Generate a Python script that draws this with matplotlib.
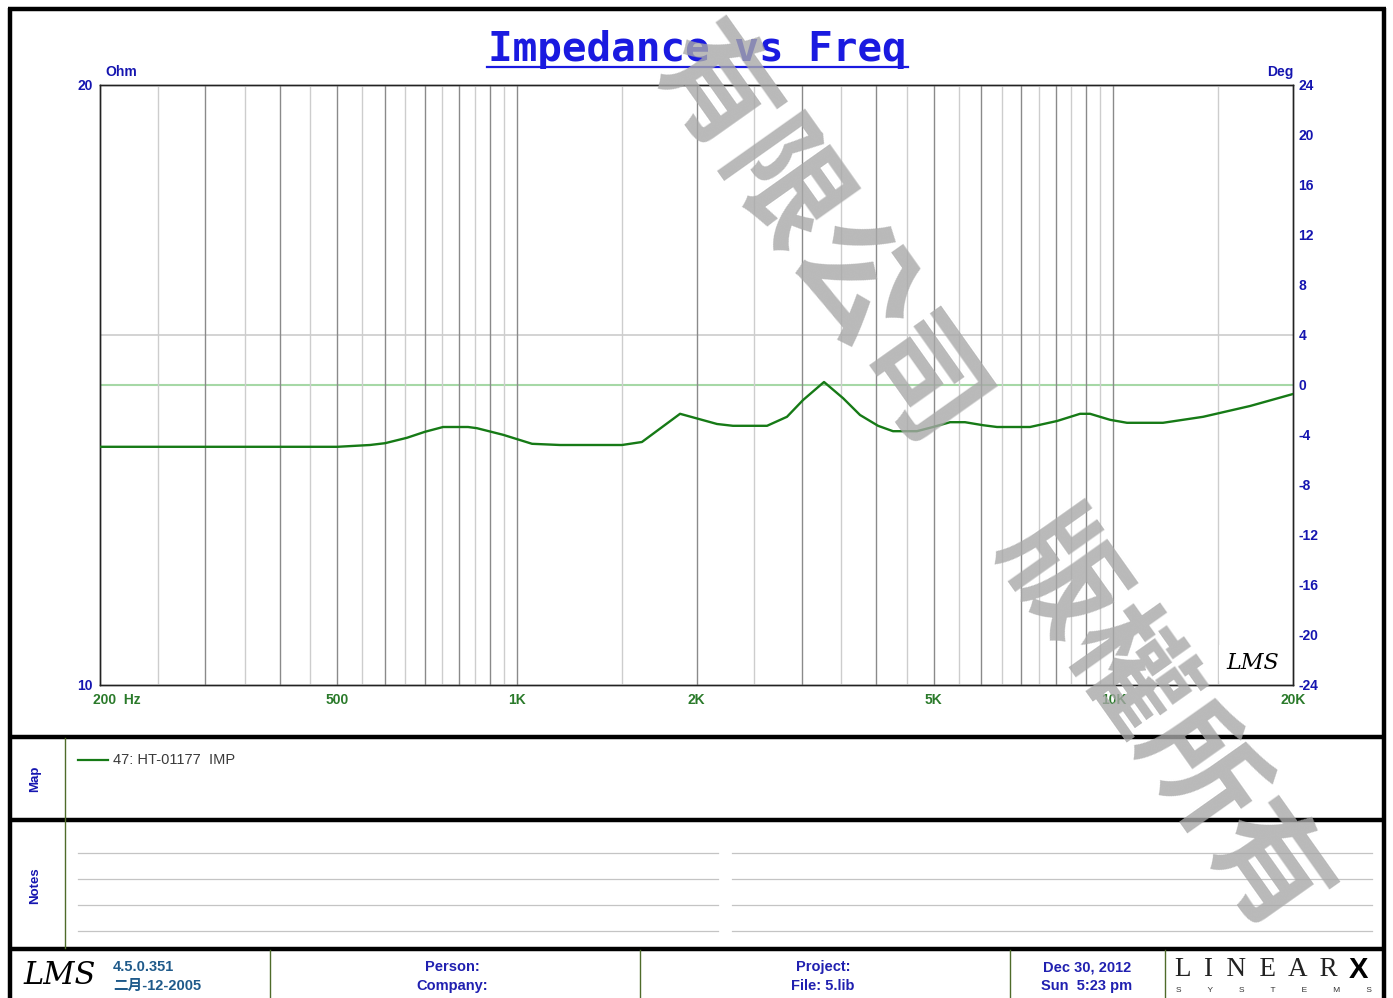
import matplotlib
matplotlib.use("Agg")
import matplotlib.pyplot as plt
import matplotlib.transforms as mtransforms
from matplotlib.ticker import FixedLocator, NullFormatter, FixedFormatter

plt.rcParams["axes.unicode_minus"] = False

# ---------------- data ----------------
freq_hz = [200, 300, 400, 500, 567, 601, 654, 701, 752, 828, 857, 948, 1060, 1181,
           1500, 1620, 1877, 2165, 2302, 2626, 2836, 3018, 3272, 3522, 3760, 4031,
           4270, 4683, 4984, 5323, 5638, 6043, 6380, 7248, 8044, 8791, 9137, 9868,
           10538, 12108, 14137, 16946, 20000]
impedance_ohm = [13.97, 13.97, 13.97, 13.97, 14.00, 14.03, 14.12, 14.22, 14.30, 14.30,
                 14.28, 14.17, 14.02, 14.00, 14.00, 14.05, 14.52, 14.35, 14.32, 14.32,
                 14.47, 14.75, 15.05, 14.78, 14.50, 14.32, 14.23, 14.23, 14.30, 14.38,
                 14.38, 14.33, 14.30, 14.30, 14.40, 14.52, 14.52, 14.42, 14.37, 14.37,
                 14.47, 14.65, 14.85]

x_tick_values = [200, 500, 1000, 2000, 5000, 10000, 20000]
x_tick_labels = ["200  Hz", "500", "1K", "2K", "5K", "10K", "20K"]
ohm_ticks = [10, 20]
deg_ticks = [24, 20, 16, 12, 8, 4, 0, -4, -8, -12, -16, -20, -24]
major_grid = [300, 400, 500, 600, 700, 800, 900, 1000, 2000, 3000, 4000, 5000,
              6000, 7000, 8000, 9000, 10000]
minor_grid = [250, 350, 450, 550, 650, 750, 850, 950, 1500, 2500, 3500, 4500, 5500,
              6500, 7500, 8500, 9500, 15000]
legend_label = "47: HT-01177  IMP"

W, H = 1393, 998
BLUE = "#1515b0"
GREEN_TXT = "#2a7a2a"
CURVE = "#167a16"

fig = plt.figure(figsize=(W / 100, H / 100), dpi=100)
bg = fig.add_axes([0, 0, 1, 1])
bg.set_xlim(0, W)
bg.set_ylim(H, 0)
bg.axis("off")

# frames
thick = dict(color="black", lw=3.2, solid_capstyle="butt")
bg.plot([9.5, 9.5], [8, H], **thick)
bg.plot([1384, 1384], [8, H], **thick)
bg.plot([8, 1386], [9, 9], **thick)
for yy in [737, 820, 949]:
    bg.plot([8, 1386], [yy, yy], **thick)
olive = dict(color="#4f6b2a", lw=1.0)
bg.plot([65, 65], [738, 948], **olive)
for xx in [270, 640, 1010, 1165]:
    bg.plot([xx, xx], [950, H], **olive)
for yy in [853, 879, 905, 931]:
    bg.plot([78, 718], [yy, yy], color="#c4c4c4", lw=0.9)
    bg.plot([732, 1372], [yy, yy], color="#c4c4c4", lw=0.9)

# title
bg.text(697, 49, "Impedance vs Freq", ha="center", va="center", color="#1a1ae0",
        fontsize=29.5, family="DejaVu Sans Mono", fontweight="bold")
bg.plot([487, 908], [67, 67], color="#1a1ae0", lw=1.6)

# axis unit labels
bg.text(105, 72, "Ohm", ha="left", va="center", color=BLUE, fontsize=10,
        family="Liberation Sans", fontweight="bold")
bg.text(1293, 72, "Deg", ha="right", va="center", color=BLUE, fontsize=10,
        family="Liberation Sans", fontweight="bold")

# side labels
bg.text(35, 779, "Map", rotation=90, ha="center", va="center", color=BLUE,
        fontsize=9.5, family="Liberation Sans", fontweight="bold")
bg.text(35, 886, "Notes", rotation=90, ha="center", va="center", color=BLUE,
        fontsize=9.5, family="Liberation Sans", fontweight="bold")

# legend
bg.plot([78, 108], [760, 760], color=CURVE, lw=1.6)
bg.text(113, 760, legend_label, ha="left", va="center", color="#3a3a3a",
        fontsize=10.5, family="Liberation Sans")

# footer
bg.text(60, 976, "LMS", ha="center", va="center", fontsize=22, style="italic",
        family="DejaVu Serif", color="black")
ft = dict(fontsize=10.5, family=["Liberation Sans", "Noto Sans CJK SC"],
          fontweight="bold")
bg.text(113, 967, "4.5.0.351", ha="left", va="center", color="#1f5a8a", **ft)
bg.text(113, 986, "二月-12-2005", ha="left", va="center", color="#1f5a8a", **ft)
bg.text(452, 967, "Person:", ha="center", va="center", color="#2020b0", **ft)
bg.text(452, 986, "Company:", ha="center", va="center", color="#2020b0", **ft)
bg.text(823, 967, "Project:", ha="center", va="center", color="#2020b0", **ft)
bg.text(823, 986, "File: 5.lib", ha="center", va="center", color="#2020b0", **ft)
bg.text(1087, 967, "Dec 30, 2012", ha="center", va="center", color="#2020b0", **ft)
bg.text(1087, 986, "Sun  5:23 pm", ha="center", va="center", color="#2020b0", **ft)
bg.text(1256, 970, "L  I  N  E  A  R", ha="center", va="center", fontsize=19.5,
        family="Liberation Serif", color="#222222")
bg.text(1358, 970, "X", ha="center", va="center", fontsize=21,
        family="Liberation Sans", fontweight="heavy", color="black")
bg.text(1274, 990, "S           Y           S           T           E           M           S",
        ha="center", va="center", fontsize=6, family="Liberation Sans", color="#333333")

# ---------------- main plot ----------------
ax = fig.add_axes([100 / W, 1 - 685 / H, 1193 / W, 600 / H])
ax.set_xscale("log")
ax.set_xlim(200, 20000)
ax.set_ylim(10, 20)
for f in minor_grid:
    ax.axvline(f, color="#cdcdcd", lw=1.0, zorder=1)
for f in major_grid:
    ax.axvline(f, color="#8a8a8a", lw=1.0, zorder=1)

ax2 = ax.twinx()
ax2.set_ylim(-24, 24)
ax2.axhline(4, color="#cccccc", lw=1.2, zorder=1)
ax2.axhline(0, color="#a6d8a6", lw=1.5, zorder=1)

ax.set_zorder(ax2.get_zorder() + 1)
ax.patch.set_visible(False)
ax.plot(freq_hz, impedance_ohm, color=CURVE, lw=1.7, zorder=5)

ax.xaxis.set_major_locator(FixedLocator(x_tick_values))
ax.xaxis.set_major_formatter(FixedFormatter(x_tick_labels))
ax.xaxis.set_minor_formatter(NullFormatter())
ax.xaxis.set_minor_locator(FixedLocator([]))
ax.tick_params(axis="x", length=0, pad=6, labelsize=10, labelcolor=GREEN_TXT)
for lab in ax.get_xticklabels():
    lab.set_fontweight("bold")
    lab.set_family("Liberation Sans")
first = ax.get_xticklabels()[0]
first.set_transform(first.get_transform() +
                    mtransforms.ScaledTranslation(17 / 100, 0, fig.dpi_scale_trans))
ax.set_yticks(ohm_ticks)
ax.tick_params(axis="y", length=0, pad=5, labelsize=10, labelcolor=BLUE)
for lab in ax.get_yticklabels():
    lab.set_fontweight("bold")
    lab.set_family("Liberation Sans")
ax2.set_yticks(deg_ticks)
ax2.tick_params(axis="y", length=0, pad=4, labelsize=10, labelcolor=BLUE)
for lab in ax2.get_yticklabels():
    lab.set_fontweight("bold")
    lab.set_family("Liberation Sans")
for a in (ax, ax2):
    for s in a.spines.values():
        s.set_color("#222222")
        s.set_linewidth(1.0)

# LMS logo box inside plot
ax.text(0.988, 0.018, "LMS", transform=ax.transAxes, ha="right", va="bottom",
        fontsize=16, style="italic", family="DejaVu Serif", color="black",
        zorder=6, bbox=dict(facecolor="white", edgecolor="none", pad=5))

# watermark
fig.text(990 / W, 1 - 478 / H, "有限公司　版權所有", rotation=-54.7,
         rotation_mode="anchor", ha="center", va="center", fontsize=86,
         family="Noto Sans CJK TC", fontweight="bold", color="#a8a8a8",
         alpha=0.8, zorder=100)

fig.savefig("out.png", dpi=100)
